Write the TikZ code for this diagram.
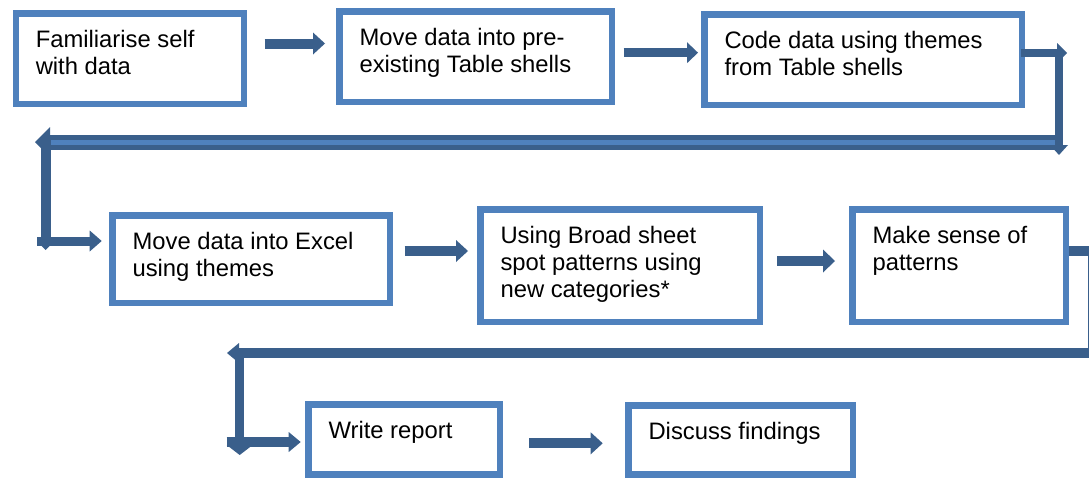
\documentclass[tikz,border=0pt]{standalone}
\usepackage{fontspec}
\setmainfont{Liberation Sans}
\usetikzlibrary{arrows.meta}
\definecolor{boxblue}{HTML}{4F81BD}
\definecolor{linkblue}{HTML}{3A5F8B}
% text block of a stage: #1 = box width, #2 = box height (border centre line)
\newcommand\boxtext[3]{\parbox[c][\dimexpr#2pt-30.2pt\relax][t]{\dimexpr#1pt-40pt\relax}{\raggedright\strut #3}}

\begin{document}
\begin{tikzpicture}[x=1pt,y=-1pt,
  stage/.style={draw=boxblue, line width=6.5pt, fill=white, anchor=north west,
    inner xsep=20pt, inner ysep=15.1pt, font=\fontsize{23.8}{26.8}\selectfont},
  link/.style={draw=linkblue, line width=#1pt},
  blockhead/.style 2 args={arrows={-{Triangle[length=#1pt,width=#2pt,line width=0pt]}}}]
\useasboundingbox (0,0) rectangle (1089,477);
\clip (0,0) rectangle (1089,477);

% stages
\node[stage] (b1) at (12.5,10.2)  {\boxtext{228.3}{90.6}{Familiarise self\\with data}};
\node[stage] (b2) at (336.3,8.3)  {\boxtext{272.4}{90.4}{Move data into pre-\\existing Table shells}};
\node[stage] (b3) at (701.3,11.3) {\boxtext{317.4}{90.4}{Code data using themes\\from Table shells}};
\node[stage] (b4) at (109.3,212.3) {\boxtext{277.4}{87.4}{Move data into Excel\\using themes}};
\node[stage] (b5) at (477.3,206.3) {\boxtext{279.4}{112.4}{Using Broad sheet\\spot patterns using\\new categories*}};
\node[stage] (b6) at (849.3,206.3) {\boxtext{213.4}{112.4}{Make sense of\\patterns}};
\node[stage] (b7) at (305.3,401.3) {\boxtext{191.4}{69.7}{Write report}};
\node[stage] (b8) at (625.3,402.3) {\boxtext{224.4}{68.7}{Discuss findings}};

% straight links within a row
\draw[link=10, blockhead={12}{22}, shorten <=17.2pt, shorten >=11.3pt] (b1.east |- 0,43.5) -- (b2.west |- 0,43.5);
\draw[link=9, blockhead={11}{21}, shorten <=8.3pt, shorten >=3.3pt] (b2.east |- 0,52.7) -- (b3.west |- 0,52.7);
\draw[link=10, blockhead={12}{22}, shorten <=11.3pt, shorten >=9.3pt] (b4.east |- 0,251) -- (b5.west |- 0,251);
\draw[link=10, blockhead={12}{23}, shorten <=14pt, shorten >=14.3pt] (b5.east |- 0,261) -- (b6.west |- 0,261);
\draw[link=10, blockhead={12}{22}, shorten <=26pt, shorten >=22.6pt] (b7.east |- 0,443.3) -- (b8.west |- 0,443.3);

% return from the first row to the second
\coordinate (c1) at (1059,53);
\coordinate (c1tip) at (1067,53);
\coordinate (c2) at (1059,155);
\coordinate (c3) at (1063,142);
\coordinate (c4) at (35,142);
\coordinate (c5) at (45.7,136);
\coordinate (c6) at (45.7,250);
\coordinate (c7) at (37,241);
\draw[link=8.3, blockhead={10}{20}, shorten <=-4pt] (b3.east |- c1) -- (c1tip);
\draw[link=15, blockhead={15}{30}] (c3) -- (c4);
\draw[draw=boxblue, line width=5pt, shorten <=3pt, shorten >=15pt] (c3) -- (c4);
\draw[link=8.3, blockhead={10}{18}] (c1) -- (c2);
\draw[link=10, blockhead={8}{16}] (c5) -- (c6);
\draw[link=9, blockhead={12}{21}, shorten >=7.6pt] (c7) -- (b4.west |- c7);

% return from the second row to the third
\coordinate (d1) at (1093,251);
\coordinate (d1tip) at (1110,251);
\coordinate (d2) at (1093,357);
\coordinate (d3) at (1098,353);
\coordinate (d4) at (227,353);
\coordinate (d5) at (239.7,348);
\coordinate (d6) at (239.7,455);
\coordinate (d7) at (226.7,442);
\draw[link=9.5, blockhead={11}{20}] (b6.east |- d1) -- (d1tip);
\draw[link=10] (d1) -- (d2);
\draw[link=9.5, blockhead={12}{20}] (d3) -- (d4);
\draw[link=9.3, blockhead={10}{26}] (d5) -- (d6);
\draw[link=10, blockhead={12}{20}, shorten >=4.6pt] (d7) -- (b7.west |- d7);
\end{tikzpicture}
\end{document}
